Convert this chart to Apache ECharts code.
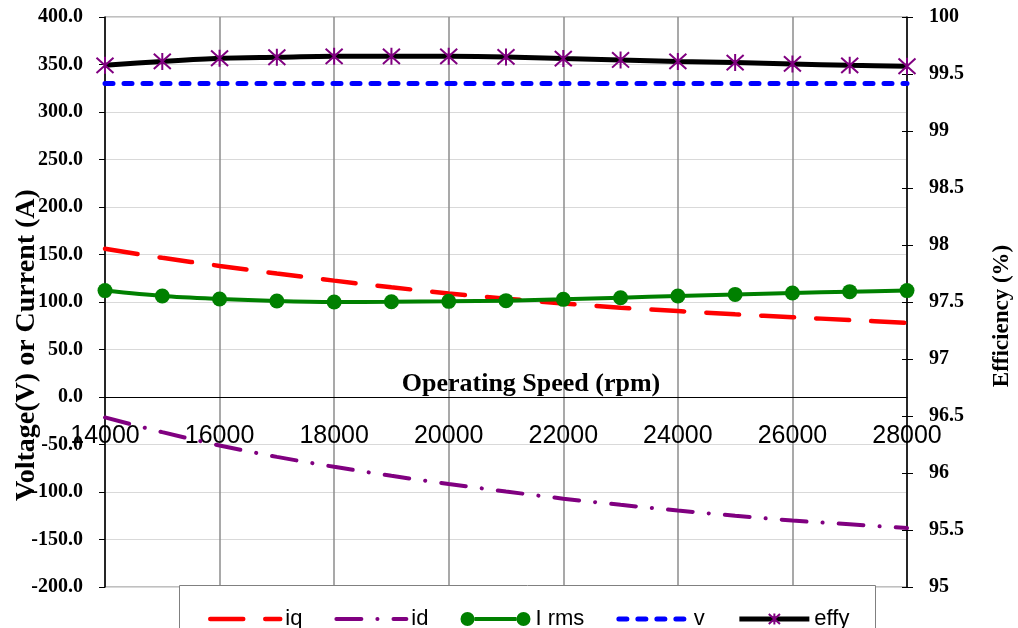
<!DOCTYPE html>
<html>
<head>
<meta charset="utf-8">
<script src="https://cdn.jsdelivr.net/npm/echarts@6/dist/echarts.min.js"></script>
<style>
  html, body { margin: 0; padding: 0; background: #fff; }
  #chart { width: 1018px; height: 628px; }
</style>
</head>
<body>
<div id="chart"></div>
<script>
// Operating speed (rpm)
var speed = [14000, 15000, 16000, 17000, 18000, 19000, 20000, 21000, 22000, 23000, 24000, 25000, 26000, 27000, 28000];
// Currents (A)
var iq   = [156, 146.5, 138, 130, 122.5, 115.5, 109, 103.5, 98.5, 94, 90.5, 87, 84, 81, 78];
var id   = [-21.5, -37, -51, -63, -73.5, -83, -91.5, -99.5, -107, -113.5, -119.5, -125, -130, -134, -138];
var irms = [112, 106.3, 103.2, 101, 100, 100.2, 100.7, 101.4, 102.8, 104.5, 106.3, 108, 109.5, 110.9, 112];
// Voltage (V)
var volt = [330, 330, 330, 330, 330, 330, 330, 330, 330, 330, 330, 330, 330, 330, 330];
// Efficiency (%)
var effy = [99.576, 99.61, 99.638, 99.647, 99.655, 99.655, 99.655, 99.65, 99.635, 99.623, 99.61, 99.6, 99.588, 99.576, 99.568];

function pairs(vals) {
  return speed.map(function (s, i) { return [s, vals[i]]; });
}

var serif = 'Liberation Serif, Times New Roman, serif';
var sans = 'Liberation Sans, Arial, sans-serif';

// plot box in pixels; the speed axis sits on the 0 A line
var gridTop = 17, gridBottom = 41, plotH = 628 - gridTop - gridBottom;
var leftMin = -200, leftMax = 400;
var zeroOffset = -plotH * (0 - leftMin) / (leftMax - leftMin);

var chart = echarts.init(document.getElementById('chart'), null, { renderer: 'canvas' });

// line series without markers get an invisible legend marker
var noMarker = { opacity: 0 };
// legend key for I rms: a marker at each end joined by a bar
var lineWithDots = 'path://M0,7a7,7 0 1,0 14,0a7,7 0 1,0 -14,0zM56,7a7,7 0 1,0 14,0a7,7 0 1,0 -14,0zM14,5L56,5L56,9L14,9z';

chart.setOption({
  animation: false,
  backgroundColor: '#fff',
  grid: {
    left: 105, right: 111, top: gridTop, bottom: gridBottom,
    containLabel: false, outerBoundsMode: 'none',
    show: true, borderColor: '#808080', borderWidth: 1
  },
  xAxis: {
    type: 'value', position: 'bottom', offset: zeroOffset,
    min: 14000, max: 28000, interval: 2000,
    axisLine: { show: true, onZero: false, lineStyle: { color: '#000', width: 1 } },
    axisTick: { show: false },
    axisLabel: {
      fontFamily: sans, fontSize: 25, color: '#000', margin: 27,
      showMinLabel: true, showMaxLabel: true,
      formatter: function (v) { return String(v); }
    },
    splitLine: { show: true, lineStyle: { color: '#8c8c8c', width: 1.5 } }
  },
  yAxis: [{
    type: 'value', position: 'left',
    min: leftMin, max: leftMax, interval: 50,
    axisLine: { show: true, onZero: false, lineStyle: { color: '#000', width: 1.5 } },
    axisTick: { show: true, length: 6, lineStyle: { color: '#000' } },
    axisLabel: {
      fontFamily: serif, fontWeight: 'bold', fontSize: 20, color: '#000', margin: 22,
      formatter: function (v) { return v.toFixed(1); }
    },
    splitLine: { show: true, lineStyle: { color: '#d9d9d9', width: 1 } }
  }, {
    type: 'value', position: 'right',
    min: 95, max: 100, interval: 0.5,
    axisLine: { show: true, onZero: false, lineStyle: { color: '#000', width: 1.5 } },
    axisTick: { show: true, length: 6, lineStyle: { color: '#000' } },
    axisLabel: {
      fontFamily: serif, fontWeight: 'bold', fontSize: 20, color: '#000', margin: 22
    },
    splitLine: { show: false }
  }, {
    // inner half of the crossing ticks on the efficiency axis
    type: 'value', position: 'right',
    min: 95, max: 100, interval: 0.5,
    axisLine: { show: false, onZero: false },
    axisTick: { show: true, inside: true, length: 5, lineStyle: { color: '#000' } },
    axisLabel: { show: false },
    splitLine: { show: false }
  }],
  legend: {
    data: [
      { name: 'iq', itemStyle: noMarker },
      { name: 'id', itemStyle: noMarker },
      { name: 'I rms', icon: lineWithDots },
      { name: 'v', itemStyle: noMarker },
      { name: 'effy' }
    ],
    left: 208, top: 608,
    itemWidth: 70, itemHeight: 14, itemGap: 32,
    padding: 0,
    z: 20,
    lineStyle: { width: 'inherit' },
    textStyle: { fontFamily: sans, fontSize: 22, color: '#000' }
  },
  graphic: [{
    type: 'rect', z: 15,
    shape: { x: 179.5, y: 585.5, width: 696, height: 60 },
    style: { fill: '#fff', stroke: '#808080', lineWidth: 1 }
  }, {
    type: 'text', z: 15,
    x: 531, y: 384,
    style: {
      text: 'Operating Speed (rpm)', fill: '#000',
      font: 'bold 26px ' + serif, textAlign: 'center', textVerticalAlign: 'middle'
    }
  }, {
    type: 'text', z: 15,
    x: 27, y: 345, rotation: Math.PI / 2,
    style: {
      text: 'Voltage(V) or Current (A)', fill: '#000',
      font: 'bold 28px ' + serif, textAlign: 'center', textVerticalAlign: 'middle'
    }
  }, {
    type: 'text', z: 15,
    x: 1002, y: 316, rotation: Math.PI / 2,
    style: {
      text: 'Efficiency (%)', fill: '#000',
      font: 'bold 23px ' + serif, textAlign: 'center', textVerticalAlign: 'middle'
    }
  }],
  series: [{
    name: 'iq', type: 'line', yAxisIndex: 0,
    data: pairs(iq), smooth: 0.3, symbol: 'none',
    lineStyle: { color: '#ff0000', width: 4.5, type: [33, 22], cap: 'round' },
    itemStyle: { color: '#ff0000' }
  }, {
    name: 'id', type: 'line', yAxisIndex: 0,
    data: pairs(id), smooth: 0.3, symbol: 'none',
    lineStyle: { color: '#800080', width: 4, type: [25, 16, 0.1, 16], cap: 'round' },
    itemStyle: { color: '#800080' }
  }, {
    name: 'I rms', type: 'line', yAxisIndex: 0,
    data: pairs(irms), smooth: 0.3,
    symbol: 'circle', symbolSize: 15, clip: false,
    lineStyle: { color: '#008000', width: 4 },
    itemStyle: { color: '#008000' }
  }, {
    name: 'v', type: 'line', yAxisIndex: 0,
    data: pairs(volt), symbol: 'none',
    lineStyle: { color: '#0000ff', width: 5, type: [8, 11], cap: 'round' },
    itemStyle: { color: '#0000ff' }
  }, {
    name: 'effy', type: 'line', yAxisIndex: 1,
    data: pairs(effy), smooth: 0.3, clip: false,
    symbol: 'path://M0,-10L0,10M-9,-9L9,9M-9,9L9,-9', symbolSize: 17,
    lineStyle: { color: '#000', width: 5 },
    itemStyle: { color: '#800080', borderColor: '#800080', borderWidth: 2 }
  }]
});
</script>
</body>
</html>
